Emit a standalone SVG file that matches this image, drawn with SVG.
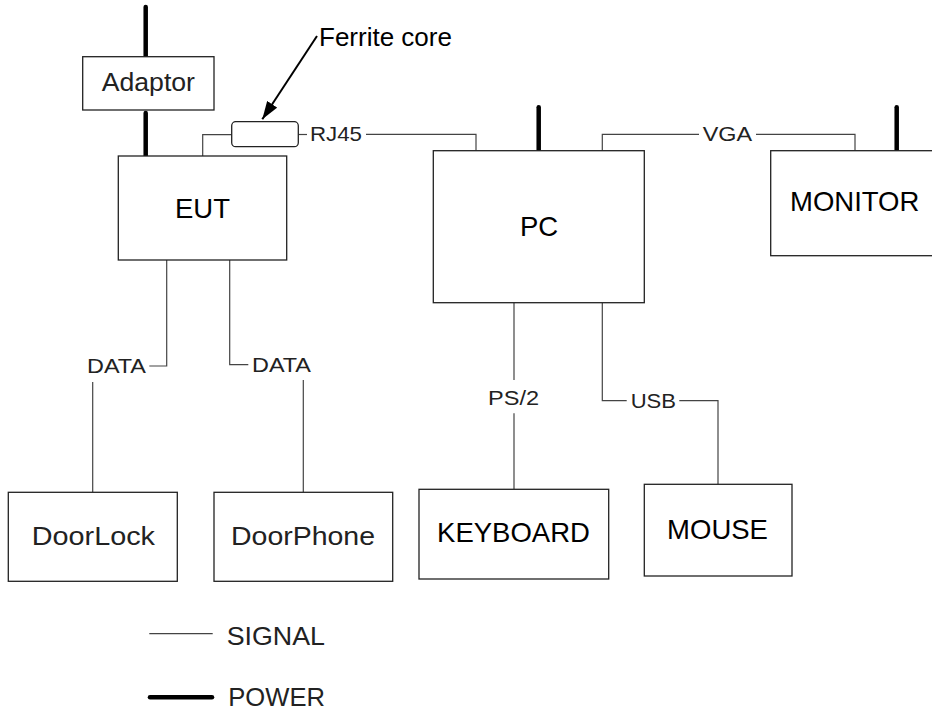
<svg xmlns="http://www.w3.org/2000/svg" width="932" height="711" viewBox="0 0 932 711">
<style>
.box{fill:#fff;stroke:#222;stroke-width:1.3}
.sig{fill:none;stroke:#444;stroke-width:1.2}
.pwr{fill:none;stroke:#000;stroke-width:4.5;stroke-linecap:round}
.t{font-family:"Liberation Sans",Arial,sans-serif;fill:#000}
.big{font-size:27.5px;text-anchor:middle}
.lbl{font-family:"Liberation Sans",Arial,sans-serif;font-size:21px;fill:#222}
.thin{font-family:"Liberation Sans",Arial,sans-serif;font-size:25px;fill:#222}
</style>
<defs>
<marker id="ah" viewBox="0 0 18 12" refX="18" refY="6" markerWidth="18" markerHeight="12" markerUnits="userSpaceOnUse" orient="auto">
<path d="M0,0 L18,6 L0,12 z" fill="#000"/>
</marker>
</defs>
<g id="connectors">
<path class="sig" d="M202.7,156 V134.7 H231.7"/>
<path class="sig" d="M298.3,134.5 H307"/>
<path class="sig" d="M366,134.3 H476 V150.7"/>
<path class="sig" d="M602.3,150.7 V134.3 H699"/>
<path class="sig" d="M756,134.3 H855 V150.7"/>
<path class="sig" d="M166.7,260 V366 H149.3"/>
<path class="sig" d="M92.7,382 V492.3"/>
<path class="sig" d="M229.7,260 V364.7 H248.3"/>
<path class="sig" d="M303.3,380 V492.3"/>
<path class="sig" d="M514,302.7 V380"/>
<path class="sig" d="M514,413.3 V489.3"/>
<path class="sig" d="M602.3,302.7 V400.7 H626.7"/>
<path class="sig" d="M679.3,400.7 H718 V484.3"/>
<text class="lbl" x="310" y="141" textLength="52" lengthAdjust="spacingAndGlyphs">RJ45</text>
<text class="lbl" x="702.7" y="141" textLength="49.4" lengthAdjust="spacingAndGlyphs">VGA</text>
<text class="lbl" x="87" y="373" textLength="59" lengthAdjust="spacingAndGlyphs">DATA</text>
<text class="lbl" x="252" y="371.7" textLength="59" lengthAdjust="spacingAndGlyphs">DATA</text>
<text class="lbl" x="488" y="405" textLength="51" lengthAdjust="spacingAndGlyphs">PS/2</text>
<text class="lbl" x="630.7" y="408.3" textLength="45.3" lengthAdjust="spacingAndGlyphs">USB</text>
<path class="pwr" d="M145.7,7 V56.7"/>
<path class="pwr" d="M145.7,113 V156"/>
<path class="pwr" d="M538.7,107.3 V150"/>
<path class="pwr" d="M896.7,107.3 V150"/>
<path d="M317,36 L262.3,119.3" stroke="#000" stroke-width="2" fill="none" marker-end="url(#ah)"/>
<text class="t" x="319" y="46" font-size="26">Ferrite core</text>
</g>
<g id="adaptor">
<rect class="box" x="82.7" y="56.7" width="131.3" height="53.3"/>
<text class="thin" x="101.7" y="91" textLength="93.3" lengthAdjust="spacingAndGlyphs">Adaptor</text>
</g>
<g id="ferrite">
<rect class="box" x="231.7" y="121.7" width="66.6" height="25" rx="4" ry="4"/>
</g>
<g id="eut">
<rect class="box" x="118.3" y="156" width="168.4" height="104"/>
<text class="t big" x="202.5" y="217.5">EUT</text>
</g>
<g id="pc">
<rect class="box" x="433.3" y="150.7" width="211" height="152"/>
<text class="t big" x="539" y="235.7">PC</text>
</g>
<g id="monitor">
<rect class="box" x="770.7" y="150.7" width="168" height="105"/>
<text class="t big" x="854.7" y="210.7">MONITOR</text>
</g>
<g id="doorlock">
<rect class="box" x="8.3" y="492.3" width="169" height="89"/>
<text class="thin" x="31.7" y="545" textLength="123.3" lengthAdjust="spacingAndGlyphs">DoorLock</text>
</g>
<g id="doorphone">
<rect class="box" x="214" y="492.3" width="178.7" height="89"/>
<text class="thin" x="231" y="545" textLength="144" lengthAdjust="spacingAndGlyphs">DoorPhone</text>
</g>
<g id="keyboard">
<rect class="box" x="419" y="489.3" width="189.7" height="89.7"/>
<text class="t big" x="513.5" y="541.7">KEYBOARD</text>
</g>
<g id="mouse">
<rect class="box" x="644.3" y="484.3" width="147.7" height="91.7"/>
<text class="t big" x="717.5" y="539.3">MOUSE</text>
</g>
<g id="legend">
<path class="sig" d="M149.3,633.7 H212.7"/>
<text class="thin" x="226.7" y="645" font-size="26" textLength="98.3" lengthAdjust="spacingAndGlyphs">SIGNAL</text>
<path class="pwr" d="M150,697.3 H212"/>
<text class="thin" x="228.3" y="706" font-size="26" textLength="96.7" lengthAdjust="spacingAndGlyphs">POWER</text>
</g>
</svg>
